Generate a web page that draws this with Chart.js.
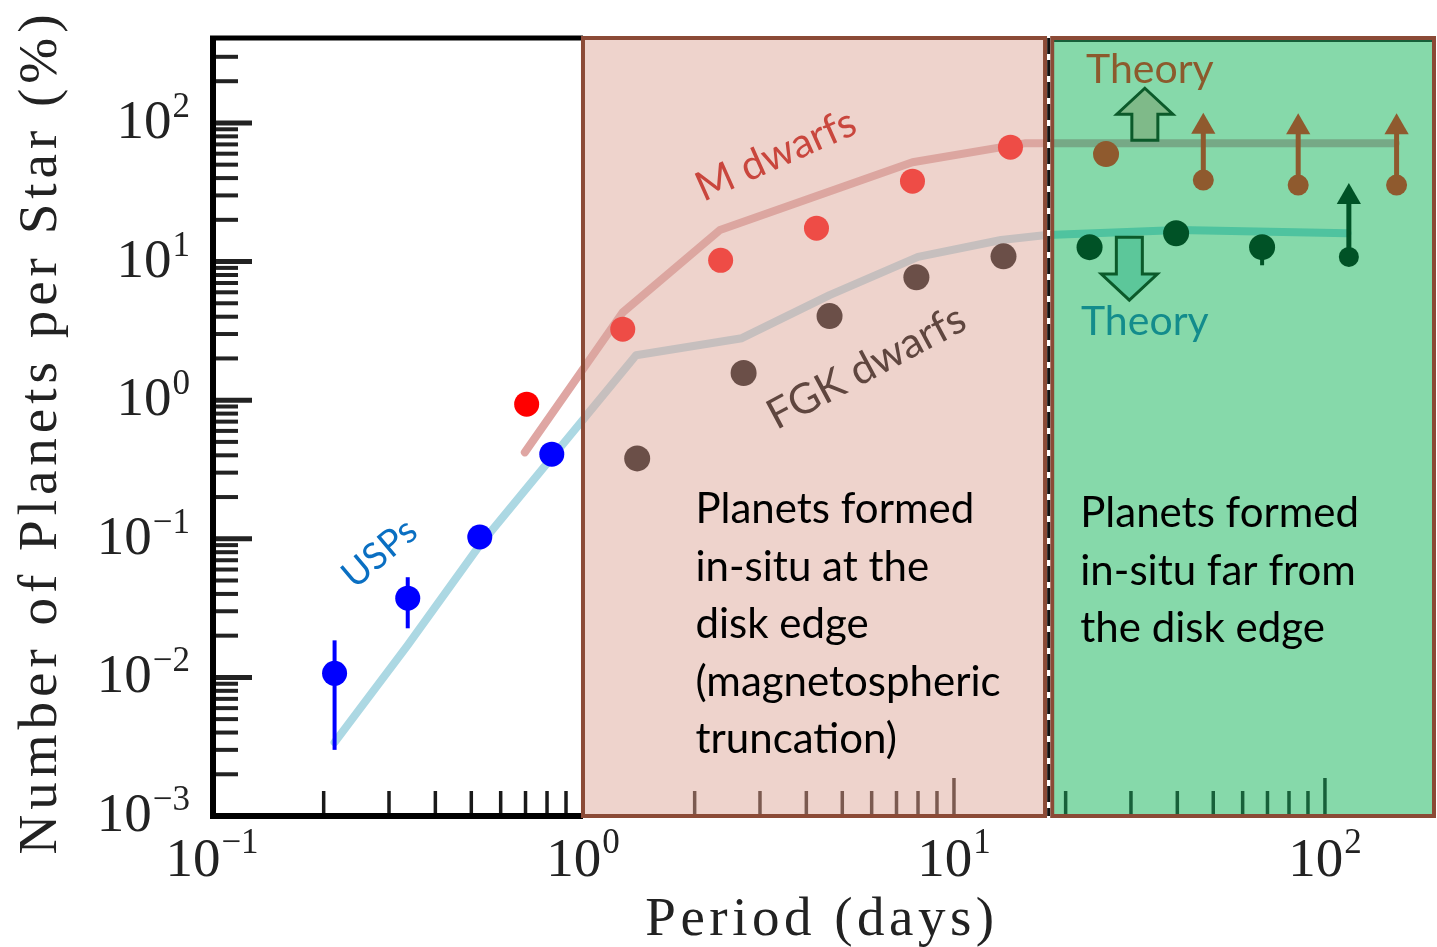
<!DOCTYPE html>
<html>
<head>
<meta charset="utf-8">
<script src="https://cdn.jsdelivr.net/npm/chart.js@4.4.1/dist/chart.umd.min.js"></script>
<style>
  html, body { margin: 0; padding: 0; background: #fff; }
  #wrap { width: 1437px; height: 947px; }
</style>
</head>
<body>
<div id="wrap"><canvas id="myChart" width="1437" height="947"></canvas></div>
<script>
// Data (period in days, planets per star in %)
const uspPeriod = [0.214, 0.337, 0.527, 0.824];
const uspRate = [0.0107, 0.0373, 0.103, 0.408];
const uspErrLow = [0.0030, 0.0226, null, null];
const uspErrHigh = [0.0185, 0.0528, null, null];

const uspMPeriod = [0.705];
const uspMRate = [0.935];

const mPeriod = [1.28, 2.35, 4.26, 7.73, 14.2];
const mRate = [3.25, 10.2, 17.4, 38, 66.9];

const fgkPeriod = [1.40, 2.71, 4.62, 7.92, 13.6];
const fgkRate = [0.38, 1.57, 4.04, 7.7, 10.9];

// far-out bins, lower limits get an arrow up to *ArrowHead
const mOuterPeriod = [25.7, 47.0, 84.7, 156];
const mOuterRate = [59.6, 38.7, 35.6, 35.6];
const mOuterArrowHead = [null, 94, 93, 93];

const fgkOuterPeriod = [23.2, 39.7, 67.7, 116];
const fgkOuterRate = [12.7, 16.0, 12.7, 10.8];
const fgkOuterErrLow = [null, null, 9.4, null];
const fgkOuterArrowHead = [null, null, null, 29.2];

// theory curves
const theoryFgkPeriod = [0.214, 0.337, 0.527, 1.39, 2.68, 4.62, 8.0, 13.4, 17.5, 40.5, 115];
const theoryFgkRate = [0.0034, 0.0171, 0.090, 2.11, 2.80, 5.72, 10.8, 14.3, 15.5, 16.9, 16.0];
const theoryMPeriod = [0.697, 1.28, 2.34, 7.73, 15.6, 155];
const theoryMRate = [0.42, 4.3, 16.9, 52, 71.5, 71.5];

// axis ranges and region edges (period)
const xMin = 0.1, xMax = 198;
const yMin = 0.001, yMax = 410;
const pinkRange = [1, 17.6];
const greenRange = [18.4, xMax];
const dividePeriod = 18.0;
const yMajor = [1e-3, 1e-2, 1e-1, 1e0, 1e1, 1e2];
const xMajor = [1e-1, 1e0, 1e1, 1e2];

const SANS = 'Lato, "Open Sans", sans-serif';
const SERIF = '"Liberation Serif", "DejaVu Serif", serif';

// wanted chart area in the 1437x947 canvas
const AREA = { left: 212, right: 1435, top: 38, bottom: 816 };

function pts(xs, ys) {
    return xs.map((x, i) => ({ x: x, y: ys[i] }));
}

const datasets = [];

// points first (drawn on top)
datasets.push({ data: pts(uspPeriod, uspRate), pointRadius: 12.5, pointBackgroundColor: '#0000ff', pointBorderWidth: 0, order: 0 });
datasets.push({ data: pts(uspMPeriod, uspMRate), pointRadius: 12.5, pointBackgroundColor: '#ff0000', pointBorderWidth: 0, order: 0 });
datasets.push({ data: pts(mPeriod, mRate), pointRadius: 12.5, pointBackgroundColor: '#ee4c46', pointBorderWidth: 0, order: 0 });
datasets.push({ data: pts(fgkPeriod, fgkRate), pointRadius: 13, pointBackgroundColor: '#6b4f48', pointBorderWidth: 0, order: 0 });
datasets.push({
    data: pts(mOuterPeriod, mOuterRate),
    pointRadius: mOuterArrowHead.map(h => h ? 10.5 : 13),
    pointBackgroundColor: '#8f5a2e', pointBorderWidth: 0, order: 0
});
datasets.push({
    data: pts(fgkOuterPeriod, fgkOuterRate),
    pointRadius: fgkOuterArrowHead.map(h => h ? 10 : 13),
    pointBackgroundColor: '#005226', pointBorderWidth: 0, order: 0
});

// error bars
uspPeriod.forEach((p, i) => {
    if (uspErrLow[i] === null) return;
    datasets.push({ data: [{ x: p, y: uspErrLow[i] }, { x: p, y: uspErrHigh[i] }], showLine: true, pointRadius: 0, borderColor: '#0000ff', borderWidth: 4, order: 1 });
});
fgkOuterPeriod.forEach((p, i) => {
    if (fgkOuterErrLow[i] === null) return;
    datasets.push({ data: [{ x: p, y: fgkOuterErrLow[i] }, { x: p, y: fgkOuterRate[i] }], showLine: true, pointRadius: 0, borderColor: '#005226', borderWidth: 4, order: 1 });
});

// lower limit arrows
function limitArrows(periods, rates, heads, color) {
    periods.forEach((p, i) => {
        if (!heads[i]) return;
        datasets.push({
            data: [{ x: p, y: rates[i] }, { x: p, y: heads[i] }],
            showLine: true, borderColor: color, borderWidth: 5,
            pointRadius: [0, 14], pointStyle: 'triangle', pointRotation: 0,
            pointBackgroundColor: color, pointBorderWidth: 0, order: 1
        });
    });
}
limitArrows(mOuterPeriod, mOuterRate, mOuterArrowHead, '#8f5a2e');
limitArrows(fgkOuterPeriod, fgkOuterRate, fgkOuterArrowHead, '#005226');

// theory lines, one copy per region so the colour changes at the edges
function theoryLine(xs, ys, color, region) {
    datasets.push({
        data: pts(xs, ys), showLine: true, pointRadius: 0,
        borderColor: color, borderWidth: 8, borderJoinStyle: 'round', borderCapStyle: 'round',
        region: region, order: 5
    });
}
theoryLine(theoryMPeriod, theoryMRate, '#dfa6a3', 'white');
theoryLine(theoryMPeriod, theoryMRate, '#dca6a0', 'pink');
theoryLine(theoryMPeriod, theoryMRate, '#76a986', 'green');
theoryLine(theoryFgkPeriod, theoryFgkRate, '#acd8e3', 'white');
theoryLine(theoryFgkPeriod, theoryFgkRate, '#c6bfbe', 'pink');
theoryLine(theoryFgkPeriod, theoryFgkRate, '#4fc39f', 'green');

// text notes, placed in data coordinates
const notes = [
    { text: 'USPs', x: 0.283, y: 0.0787, rot: -40, color: '#0a6fc2', size: 37 },
    { text: 'M dwarfs', x: 3.31, y: 58.6, rot: -24, color: '#c9463d', size: 41 },
    { text: 'FGK dwarfs', x: 5.81, y: 1.73, rot: -28, color: '#5f463f', size: 42 }
];
const theoryNotes = [
    { text: 'Theory', x: 22.7, y: 194, color: '#8c5a2d' },
    { text: 'Theory', x: 22.0, y: 2.94, color: '#138c8c' }
];
const blocks = [
    { lines: ['Planets formed', 'in-situ at the', 'disk edge', '(magnetospheric', 'truncation)'], x: 2.01, y: 0.1297 },
    { lines: ['Planets formed', 'in-situ far from', 'the disk edge'], x: 21.9, y: 0.121 }
];
const bigArrows = [
    { x: 32.7, from: 75, to: 178, fill: '#7fba89' },
    { x: 29.7, from: 15.0, to: 5.27, fill: '#5cc79a' }
];

function regionOf(v) {
    if (v < pinkRange[0]) return 'white';
    if (v < dividePeriod) return 'pink';
    return 'green';
}

function drawPower(ctx, exp, px, baseY, expY, align) {
    const base = '10';
    const ex = exp < 0 ? '\u2212' + Math.abs(exp) : String(exp);
    ctx.font = '55px ' + SERIF;
    const wb = ctx.measureText(base).width;
    ctx.font = '35px ' + SERIF;
    const we = ctx.measureText(ex).width;
    const start = align === 'right' ? px - wb - we - 1 : px - (wb + we + 1) / 2;
    ctx.textAlign = 'left';
    ctx.textBaseline = 'alphabetic';
    ctx.font = '55px ' + SERIF;
    ctx.fillText(base, start, baseY);
    ctx.font = '35px ' + SERIF;
    ctx.fillText(ex, start + wb + 1, expY);
}

const drawPlugin = {
    id: 'drawPlugin',
    beforeDatasetsDraw(chart) {
        const { ctx, chartArea: a, scales: { x, y } } = chart;
        ctx.save();
        // regions
        const p0 = x.getPixelForValue(pinkRange[0]), p1 = x.getPixelForValue(pinkRange[1]);
        const g0 = x.getPixelForValue(greenRange[0]);
        ctx.fillStyle = '#eed3cc';
        ctx.fillRect(p0, a.top, p1 - p0, a.bottom - a.top);
        ctx.fillStyle = '#86d9aa';
        ctx.fillRect(g0, a.top, a.right - g0, a.bottom - a.top);

        // y ticks (inside)
        ctx.strokeStyle = '#222';
        for (let d = -3; d <= 2; d++) {
            for (let m = 1; m <= 9; m++) {
                const v = m * Math.pow(10, d);
                const py = y.getPixelForValue(v);
                if (py < a.top + 6 || py > a.bottom) continue;
                ctx.lineWidth = m === 1 ? 5 : 4;
                ctx.beginPath();
                ctx.moveTo(a.left, py);
                ctx.lineTo(a.left + (m === 1 ? 40 : 26), py);
                ctx.stroke();
            }
        }
        // x ticks (inside, colour by region)
        const tickCol = { white: '#1a1a1a', pink: '#7b5a50', green: '#17603a' };
        for (let d = -1; d <= 2; d++) {
            for (let m = 1; m <= 9; m++) {
                const v = m * Math.pow(10, d);
                if (v <= xMin || v >= xMax) continue;
                const px = x.getPixelForValue(v);
                ctx.strokeStyle = tickCol[regionOf(v)];
                ctx.lineWidth = 3.5;
                ctx.beginPath();
                ctx.moveTo(px, a.bottom);
                ctx.lineTo(px, a.bottom - (m === 1 ? 38 : 25));
                ctx.stroke();
            }
        }

        // black frame on the white part
        ctx.strokeStyle = '#000';
        ctx.lineWidth = 6;
        ctx.beginPath();
        ctx.moveTo(a.left + 1, a.top);
        ctx.lineTo(a.left + 1, a.bottom);
        ctx.stroke();
        ctx.beginPath();
        ctx.moveTo(a.left - 2, a.bottom);
        ctx.lineTo(p0, a.bottom);
        ctx.stroke();
        ctx.lineWidth = 5;
        ctx.beginPath();
        ctx.moveTo(a.left - 2, a.top);
        ctx.lineTo(p0, a.top);
        ctx.stroke();
        ctx.restore();
    },
    beforeDatasetDraw(chart, args) {
        const ds = chart.data.datasets[args.index];
        if (!ds.region) return;
        const { ctx, chartArea: a, scales: { x } } = chart;
        let l = a.left, r = a.right;
        if (ds.region === 'white') r = x.getPixelForValue(pinkRange[0]);
        if (ds.region === 'pink') { l = x.getPixelForValue(pinkRange[0]); r = x.getPixelForValue(dividePeriod); }
        if (ds.region === 'green') l = x.getPixelForValue(dividePeriod);
        ctx.save();
        ctx.beginPath();
        ctx.rect(l, a.top - 20, r - l, a.bottom - a.top + 40);
        ctx.clip();
    },
    afterDatasetDraw(chart, args) {
        const ds = chart.data.datasets[args.index];
        if (ds.region) chart.ctx.restore();
    },
    afterDatasetsDraw(chart) {
        const { ctx, chartArea: a, scales: { x, y } } = chart;
        ctx.save();
        const p0 = x.getPixelForValue(pinkRange[0]), p1 = x.getPixelForValue(pinkRange[1]);
        const g0 = x.getPixelForValue(greenRange[0]);
        const dv = x.getPixelForValue(dividePeriod);

        // region borders
        ctx.strokeStyle = '#17603a';
        ctx.lineWidth = 2;
        ctx.beginPath();
        ctx.moveTo(g0, a.top + 3);
        ctx.lineTo(a.right, a.top + 3);
        ctx.stroke();
        ctx.strokeStyle = '#8b4a36';
        ctx.lineWidth = 4;
        ctx.strokeRect(p0, a.top, p1 - p0, a.bottom - a.top);
        ctx.strokeRect(g0, a.top, a.right - g0 - 1, a.bottom - a.top);
        // dashed divider
        ctx.strokeStyle = '#fff';
        ctx.lineWidth = 3;
        ctx.beginPath();
        ctx.moveTo(dv, a.top);
        ctx.lineTo(dv, a.bottom);
        ctx.stroke();
        ctx.strokeStyle = '#111';
        ctx.setLineDash([16, 6]);
        ctx.beginPath();
        ctx.moveTo(dv, a.top);
        ctx.lineTo(dv, a.bottom);
        ctx.stroke();
        ctx.setLineDash([]);

        // big hollow "Theory" arrows
        bigArrows.forEach(ar => {
            const cx = x.getPixelForValue(ar.x);
            const tip = y.getPixelForValue(ar.to);
            const base = y.getPixelForValue(ar.from);
            const dir = Math.sign(base - tip);
            const hw = 28, sw = 13, hl = 26;
            const neck = tip + dir * hl;
            ctx.beginPath();
            ctx.moveTo(cx, tip);
            ctx.lineTo(cx + hw, neck);
            ctx.lineTo(cx + sw, neck);
            ctx.lineTo(cx + sw, base);
            ctx.lineTo(cx - sw, base);
            ctx.lineTo(cx - sw, neck);
            ctx.lineTo(cx - hw, neck);
            ctx.closePath();
            ctx.fillStyle = ar.fill;
            ctx.fill();
            ctx.strokeStyle = '#0b5a2a';
            ctx.lineWidth = 3;
            ctx.lineJoin = 'miter';
            ctx.stroke();
        });

        // rotated labels
        notes.forEach(n => {
            ctx.save();
            ctx.translate(x.getPixelForValue(n.x), y.getPixelForValue(n.y));
            ctx.rotate(n.rot * Math.PI / 180);
            ctx.font = n.size + 'px ' + SANS;
            ctx.fillStyle = n.color;
            ctx.textAlign = 'center';
            ctx.textBaseline = 'middle';
            ctx.fillText(n.text, 0, 0);
            ctx.restore();
        });
        theoryNotes.forEach(n => {
            ctx.font = '41px ' + SANS;
            ctx.fillStyle = n.color;
            ctx.textAlign = 'left';
            ctx.textBaseline = 'alphabetic';
            ctx.fillText(n.text, x.getPixelForValue(n.x), y.getPixelForValue(n.y));
        });
        blocks.forEach(b => {
            ctx.font = '42px ' + SANS;
            ctx.fillStyle = '#000';
            ctx.textAlign = 'left';
            ctx.textBaseline = 'alphabetic';
            const bx = x.getPixelForValue(b.x), by = y.getPixelForValue(b.y);
            b.lines.forEach((t, i) => ctx.fillText(t, bx, by + i * 57.5));
        });

        // tick labels
        ctx.fillStyle = '#222';
        yMajor.forEach(v => {
            const py = y.getPixelForValue(v);
            drawPower(ctx, Math.round(Math.log10(v)), 190, py + 15, py - 6, 'right');
        });
        xMajor.forEach(v => {
            const px = x.getPixelForValue(v);
            drawPower(ctx, Math.round(Math.log10(v)), px, 876, 853, 'center');
        });

        // axis titles
        ctx.fillStyle = '#222';
        ctx.font = '55px ' + SERIF;
        ctx.letterSpacing = '4.5px';
        ctx.textAlign = 'center';
        ctx.textBaseline = 'alphabetic';
        ctx.fillText('Period (days)', 822, 935);
        ctx.letterSpacing = '5px';
        ctx.translate(56, 432);
        ctx.rotate(-Math.PI / 2);
        ctx.fillText('Number of Planets per Star (%)', 0, 0);
        ctx.restore();
    }
};

const ctx = document.getElementById('myChart').getContext('2d');
const myChart = new Chart(ctx, {
    type: 'scatter',
    data: { datasets: datasets },
    options: {
        responsive: false,
        animation: false,
        devicePixelRatio: 1,
        layout: {
            autoPadding: false,
            padding: { top: AREA.top, right: 1437 - AREA.right, left: 0, bottom: 0 }
        },
        plugins: { legend: { display: false }, tooltip: { enabled: false } },
        scales: {
            x: {
                type: 'logarithmic', min: xMin, max: xMax,
                grid: { display: false }, border: { display: false }, ticks: { display: false },
                afterFit: s => { s.height = 947 - AREA.bottom; }
            },
            y: {
                type: 'logarithmic', min: yMin, max: yMax,
                grid: { display: false }, border: { display: false }, ticks: { display: false },
                afterFit: s => { s.width = AREA.left; }
            }
        }
    },
    plugins: [drawPlugin]
});
</script>
</body>
</html>
